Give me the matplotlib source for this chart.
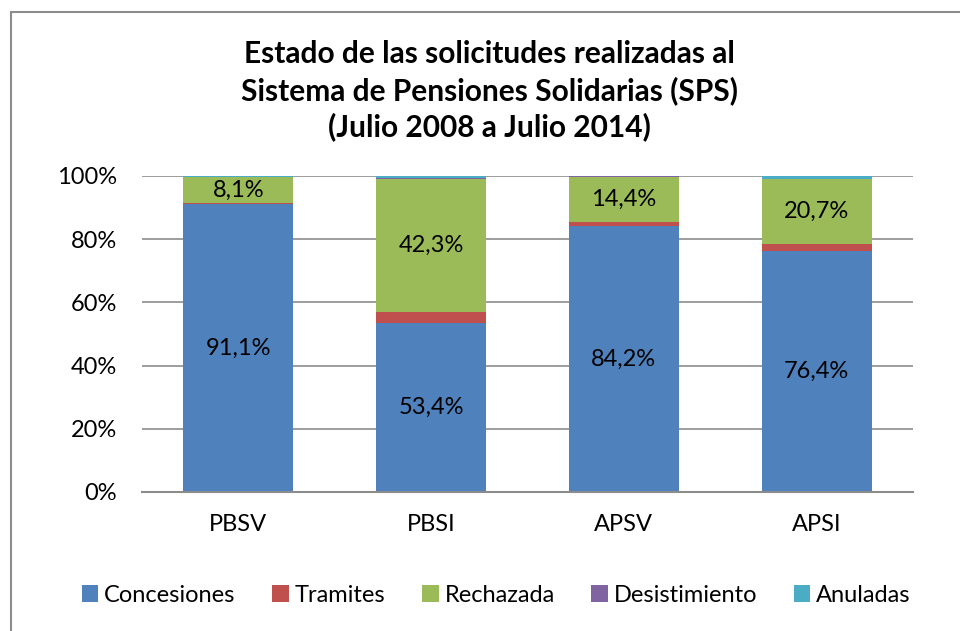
import matplotlib.pyplot as plt
import numpy as np
from matplotlib.patches import Rectangle

plt.rcParams["font.family"] = ["Lato", "DejaVu Sans"]

categories = ["PBSV", "PBSI", "APSV", "APSI"]
series_names = ["Concesiones", "Tramites", "Rechazada", "Desistimiento", "Anuladas"]
concesiones = [91.1, 53.4, 84.2, 76.4]
tramites = [0.4, 3.5, 1.2, 2.0]
rechazada = [8.1, 42.3, 14.4, 20.7]
desistimiento = [0.1, 0.2, 0.05, 0.1]
anuladas = [0.3, 0.6, 0.15, 0.8]
labelled = {"Concesiones": concesiones, "Rechazada": rechazada}

colors = ["#4F81BD", "#C0504D", "#9BBB59", "#8064A2", "#4BACC6"]
series = [concesiones, tramites, rechazada, desistimiento, anuladas]

fig = plt.figure(figsize=(9.6, 6.31), dpi=100)
ax = fig.add_axes([142 / 960, 1 - 492 / 631, (913 - 142) / 960, (492 - 176) / 631])

x = np.arange(len(categories))
bottom = np.zeros(len(categories))
for name, vals, col in zip(series_names, series, colors):
    vals = np.array(vals)
    ax.bar(x, vals, 0.57, bottom=bottom, color=col, label=name, zorder=3)
    if name in labelled:
        for xi, b, v in zip(x, bottom, vals):
            ax.text(xi, b + v / 2, f"{v:.1f}%".replace(".", ","),
                    ha="center", va="center", fontsize=17, zorder=4)
    bottom += vals

ax.set_xlim(-0.5, len(categories) - 0.5)
ax.set_ylim(0, 100)
ax.set_yticks(range(0, 101, 20))
ax.set_yticklabels([f"{v}%" for v in range(0, 101, 20)], fontsize=17)
ax.set_xticks(x)
ax.set_xticklabels(categories, fontsize=17)
ax.tick_params(axis="y", length=0, pad=18)
ax.tick_params(axis="x", length=0, pad=16)
ax.yaxis.grid(True, color="#8c8c8c", linewidth=1.2, zorder=0)
for s in ["left", "right", "top"]:
    ax.spines[s].set_visible(False)
ax.spines["bottom"].set_color("#8c8c8c")
ax.spines["bottom"].set_linewidth(1.5)
ax.spines["bottom"].set_zorder(5)

fig.text(0.51, 1 - 91 / 631,
         "Estado de las solicitudes realizadas al\nSistema de Pensiones Solidarias (SPS)\n(Julio 2008 a Julio 2014)",
         ha="center", va="center", fontsize=21.5, fontweight="bold", linespacing=1.32)

handles, labels = ax.get_legend_handles_labels()
fig.legend(handles, labels, loc="center", bbox_to_anchor=(0.517, 1 - 595 / 631), ncol=5,
           frameon=False, fontsize=17, handlelength=0.7, handleheight=0.7,
           handletextpad=0.25, columnspacing=1.55)

fig.patches.append(Rectangle((11 / 960, -0.1), 1.2, 1 - 12 / 631 + 0.1,
                             transform=fig.transFigure, fill=False,
                             edgecolor="#8c8c8c", linewidth=1.5))

fig.savefig("out.png", dpi=100)
